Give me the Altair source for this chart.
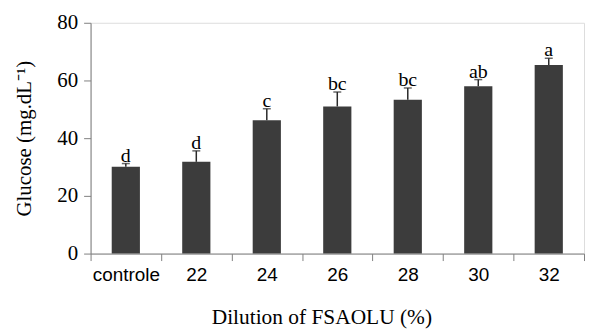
import altair as alt
import pandas as pd

categories = ["controle", "22", "24", "26", "28", "30", "32"]
means = [30.1, 31.8, 46.2, 51.0, 53.3, 58.0, 65.4]
errors = [1.1, 3.8, 4.0, 5.0, 4.1, 2.3, 2.3]
letters = ["d", "d", "c", "bc", "bc", "ab", "a"]

df = pd.DataFrame({"cat": categories, "mean": means, "err": errors, "letter": letters})
df["top"] = df["mean"] + df["err"]

W = 496
x = alt.X("cat:N", sort=categories, scale=alt.Scale(paddingInner=0, paddingOuter=0),
          axis=alt.Axis(title="Dilution of FSAOLU (%)", labelAngle=0, tickBand="extent",
                        labelFont="Liberation Sans", labelFontSize=19, labelColor="#000",
                        labelPadding=5, tickSize=7, tickColor="#808080", domainColor="#808080",
                        titleFont="Liberation Serif", titleFontSize=21.5, titleFontWeight="normal",
                        titleColor="#000", titlePadding=22, titleX=232))
y = alt.Y("mean:Q", scale=alt.Scale(domain=[0, 80]),
          axis=alt.Axis(title="Glucose (mg.dL⁻¹)", values=[0, 20, 40, 60, 80], grid=False,
                        labelFont="Liberation Serif", labelFontSize=21, labelColor="#000",
                        tickSize=7, tickColor="#808080", domainColor="#808080", labelPadding=6,
                        titleFont="Liberation Serif", titleFontSize=21, titleFontWeight="normal",
                        titleColor="#000", titlePadding=22))

base = alt.Chart(df)
bars = base.mark_bar(color="#3c3c3c", width=alt.RelativeBandSize(0.4)).encode(x=x, y=y)
rule = base.mark_rule(color="#2a2a2a", strokeWidth=1.5).encode(
    x=alt.X("cat:N", sort=categories), y="mean:Q", y2="top:Q")
cap = base.mark_tick(color="#2a2a2a", thickness=1.5, size=8).encode(
    x=alt.X("cat:N", sort=categories), y="top:Q")
text = base.mark_text(font="Liberation Serif", fontSize=20, baseline="alphabetic", dy=-2, color="#000").encode(
    x=alt.X("cat:N", sort=categories), y="top:Q", text="letter:N")

chart = alt.layer(bars, rule, cap, text).properties(
    width=W, height=232, padding={"left": 6, "top": 3, "right": 0, "bottom": 5}
).configure_view(stroke=None).configure(background="white")

chart.save("out.html", embed_options={"renderer": "svg", "actions": False})
